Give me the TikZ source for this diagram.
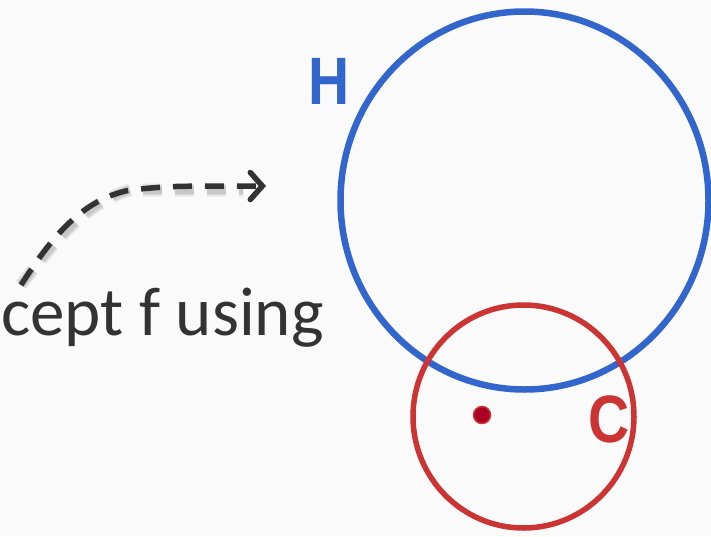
\documentclass[tikz,border=0pt]{standalone}
\usepackage{fontspec}
\setmainfont{Carlito}
\newfontfamily\labfont{Liberation Sans}
\usetikzlibrary{arrows.meta}
\definecolor{bgc}{HTML}{FAFAFA}
\definecolor{hblue}{HTML}{3366CC}
\definecolor{cred}{HTML}{CC3333}
\definecolor{dotred}{HTML}{AA0022}
\definecolor{ink}{HTML}{333333}
\tikzset{
  setH/.style={draw=hblue, line width=6.5pt},
  setC/.style={draw=cred, line width=5.5pt},
  lab/.style={inner sep=0pt, xscale=0.85, font=\labfont\bfseries\fontsize{67}{67}\selectfont},
  flow/.style={draw=ink, line width=5.5pt, dash pattern=on 19pt off 13pt, line cap=butt},
  flowshadow/.style={draw=black, line width=#1, dash pattern=on 19pt off 13pt, opacity=0.07},
}
\begin{document}
\begin{tikzpicture}[x=1pt,y=-1pt]
\fill[bgc] (0,0) rectangle (711,536);
\useasboundingbox (0,0) rectangle (711,536);
% sets
\draw[setH] (524.5,200.5) ellipse [x radius=184, y radius=189];
\draw[setC] (523.5,416.5) ellipse [x radius=110.5, y radius=111.5];
\node[lab, text=hblue] (H) at (329.5,81) {H};
\node[lab, text=cred] (C) at (609.5,419.5) {C};
\node[circle, fill=dotred, draw=cred, line width=1.5pt, minimum size=17pt, inner sep=0pt] (pt) at (482,415) {};
% text
\node[anchor=base west, inner sep=0pt, text=ink, font=\fontsize{69}{69}\selectfont] (txt) at (1,335) {cept f using};
% arrow
\coordinate (s) at (21,285);
\coordinate (m) at (130,190);
\coordinate (e) at (266,186);
\foreach \w in {13pt,10pt,7.5pt}{
  \draw[flowshadow=\w, shift={(3,4)}] (s) .. controls (50,240) and (80,200) .. (m) .. controls (170,186) .. (240,186);
}
\draw[flow, -{Straight Barb[length=12pt,width=27pt,line width=5.5pt,line cap=round]}] (s) .. controls (50,240) and (80,200) .. (m) .. controls (170,186) .. (e);
\end{tikzpicture}
\end{document}
